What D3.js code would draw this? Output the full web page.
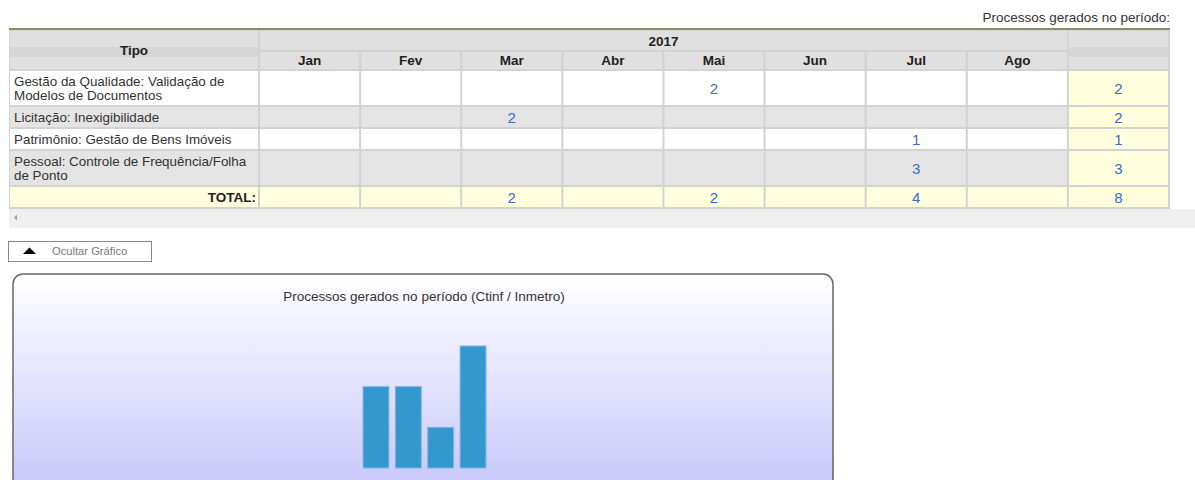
<!DOCTYPE html>
<html lang="pt">
<head>
<meta charset="UTF-8">
<title>Processos gerados no período</title>
<script src="https://cdnjs.cloudflare.com/ajax/libs/d3/7.8.5/d3.min.js"></script>
<style>
	body { margin: 0; background: #fff; }
	svg { display: block; font-family: "Liberation Sans", Arial, sans-serif; }
</style>
</head>
<body>
<svg id="chart" width="1195" height="480"></svg>
<script>
// --- data ---
var ano = "2017";
var meses = ["Jan", "Fev", "Mar", "Abr", "Mai", "Jun", "Jul", "Ago"];
var tipos = [
	["Gestão da Qualidade: Validação de", "Modelos de Documentos"],
	["Licitação: Inexigibilidade"],
	["Patrimônio: Gestão de Bens Imóveis"],
	["Pessoal: Controle de Frequência/Folha", "de Ponto"]
];
// counts per tipo, one entry per month (null = empty cell)
var gestaoQualidade = [null, null, null, null, 2, null, null, null];
var licitacao       = [null, null, 2, null, null, null, null, null];
var patrimonio      = [null, null, null, null, null, null, 1, null];
var pessoal         = [null, null, null, null, null, null, 3, null];
var contagens = [gestaoQualidade, licitacao, patrimonio, pessoal];

var tituloTabela = "Processos gerados no período:";
var tituloGrafico = "Processos gerados no período (Ctinf / Inmetro)";

function draw() {
	var svg = d3.select("#chart");

	var totTipo = contagens.map(r => d3.sum(r, v => v || 0));
	var totMes = meses.map((m, i) => d3.sum(contagens, r => r[i] || 0));
	var totGeral = d3.sum(totTipo);

	// column layout
	var colTipo = [9, 259];
	var cols = meses.concat(["__tot"]);
	var scX = d3.scaleBand().domain(cols).range([259, 1169]);

	// row layout (edges)
	var rowEdges = [30, 51, 70, 106, 128, 150, 186, 208];

	svg.append("text").attr("x", 1170).attr("y", 22).attr("text-anchor", "end")
		.attr("font-size", 13.5).attr("fill", "#333").text(tituloTabela);

	// table background (acts as grid lines)
	svg.append("rect").attr("x", 9).attr("y", 30).attr("width", 1161).attr("height", 179).attr("fill", "#d2d2d2");
	svg.append("rect").attr("x", 9).attr("y", 28).attr("width", 1161).attr("height", 2).attr("fill", "#859458");

	var cell = (x0, x1, y0, y1, fill) => svg.append("rect")
		.attr("x", x0 + 1).attr("y", y0 + 1).attr("width", x1 - x0 - 2).attr("height", y1 - y0 - 2).attr("fill", fill);

	// header
	var hdr = "#e0e0e0";
	cell(colTipo[0], colTipo[1], rowEdges[0], rowEdges[2], hdr);
	svg.append("rect").attr("x", 10).attr("y", 47).attr("width", 248).attr("height", 10).attr("fill", "#d6d6d6");
	cell(scX("Jan"), scX("Ago") + scX.bandwidth(), rowEdges[0], rowEdges[1], hdr);
	cell(scX("__tot"), scX("__tot") + scX.bandwidth(), rowEdges[0], rowEdges[2], hdr);
	svg.append("rect").attr("x", scX("__tot") + 1).attr("y", 47).attr("width", scX.bandwidth() - 2).attr("height", 10).attr("fill", "#d6d6d6");
	meses.forEach(m => cell(scX(m), scX(m) + scX.bandwidth(), rowEdges[1], rowEdges[2], hdr));

	var bold = (x, y, t, anchor) => svg.append("text").attr("x", x).attr("y", y)
		.attr("text-anchor", anchor || "middle").attr("font-size", 13.5).attr("font-weight", "bold")
		.attr("fill", "#222").text(t);
	bold((colTipo[0] + colTipo[1]) / 2, 55, "Tipo");
	bold((scX("Jan") + scX("Ago") + scX.bandwidth()) / 2, 46, ano);
	meses.forEach(m => bold(scX(m) + scX.bandwidth() / 2, 65, m));

	// body rows
	var numTxt = (x, y, v) => svg.append("text").attr("x", x).attr("y", y).attr("text-anchor", "middle")
		.attr("font-size", 15).attr("fill", "#3a6cc4").text(v);

	tipos.forEach((lines, i) => {
		var y0 = rowEdges[i + 2], y1 = rowEdges[i + 3];
		var bg = i % 2 === 0 ? "#ffffff" : "#e4e4e4";
		var mid = (y0 + y1) / 2;
		cell(colTipo[0], colTipo[1], y0, y1, bg);
		var t = svg.append("text").attr("x", 14).attr("font-size", 13.4).attr("fill", "#333");
		lines.forEach((ln, k) => t.append("tspan").attr("x", 14)
			.attr("y", mid + 5 + (k - (lines.length - 1) / 2) * 14).text(ln));
		meses.forEach((m, j) => {
			cell(scX(m), scX(m) + scX.bandwidth(), y0, y1, bg);
			if (contagens[i][j] != null) numTxt(scX(m) + scX.bandwidth() / 2, mid + 5.5, contagens[i][j]);
		});
		cell(scX("__tot"), scX("__tot") + scX.bandwidth(), y0, y1, "#ffffdd");
		numTxt(scX("__tot") + scX.bandwidth() / 2, mid + 5.5, totTipo[i]);
	});

	// total row
	var ty0 = rowEdges[6], ty1 = rowEdges[7], tmid = (ty0 + ty1) / 2;
	cell(colTipo[0], colTipo[1], ty0, ty1, "#ffffdd");
	bold(256, tmid + 5, "TOTAL:", "end");
	meses.forEach((m, j) => {
		cell(scX(m), scX(m) + scX.bandwidth(), ty0, ty1, "#ffffdd");
		if (totMes[j]) numTxt(scX(m) + scX.bandwidth() / 2, tmid + 5.5, totMes[j]);
	});
	cell(scX("__tot"), scX("__tot") + scX.bandwidth(), ty0, ty1, "#ffffdd");
	numTxt(scX("__tot") + scX.bandwidth() / 2, tmid + 5.5, totGeral);

	// scrollbar strip
	svg.append("rect").attr("x", 9).attr("y", 209).attr("width", 1186).attr("height", 19).attr("fill", "#f0f0f0");
	svg.append("path").attr("d", "M14,217.5 L17,214.5 L17,220.5 Z").attr("fill", "#a3a3a3");

	// toggle button
	svg.append("rect").attr("x", 8.5).attr("y", 241.5).attr("width", 143).attr("height", 20)
		.attr("fill", "#fff").attr("stroke", "#8a8a8a");
	svg.append("path").attr("d", "M23,254 L29.5,247.5 L36,254 Z").attr("fill", "#000");
	svg.append("text").attr("x", 52).attr("y", 254.5).attr("font-size", 11.2).attr("fill", "#777").text("Ocultar Gráfico");

	// chart panel
	var grad = svg.append("defs").append("linearGradient").attr("id", "painel")
		.attr("x1", 0).attr("y1", 0).attr("x2", 0).attr("y2", 1);
	grad.append("stop").attr("offset", "0%").attr("stop-color", "#ffffff");
	grad.append("stop").attr("offset", "100%").attr("stop-color", "#c6c6fb");
	svg.append("rect").attr("x", 13).attr("y", 274).attr("width", 820).attr("height", 220).attr("rx", 10)
		.attr("fill", "url(#painel)").attr("stroke", "#666").attr("stroke-width", 1.5);
	svg.append("text").attr("x", 424).attr("y", 301).attr("text-anchor", "middle")
		.attr("font-size", 13.5).attr("fill", "#333").text(tituloGrafico);

	var scB = d3.scaleBand().domain(d3.range(tipos.length)).range([359.8, 489.2]).paddingInner(0.2).paddingOuter(0.1);
	var scY = d3.scaleLinear().domain([0, d3.max(totTipo)]).range([468, 346]);
	svg.append("g").selectAll("rect").data(totTipo).enter().append("rect")
		.attr("x", (d, i) => scB(i)).attr("width", scB.bandwidth())
		.attr("y", d => scY(d)).attr("height", d => scY(0) - scY(d))
		.attr("fill", "#3399cc").attr("stroke", "#7fb2ee").attr("stroke-width", 1);
}
draw();
</script>
</body>
</html>
